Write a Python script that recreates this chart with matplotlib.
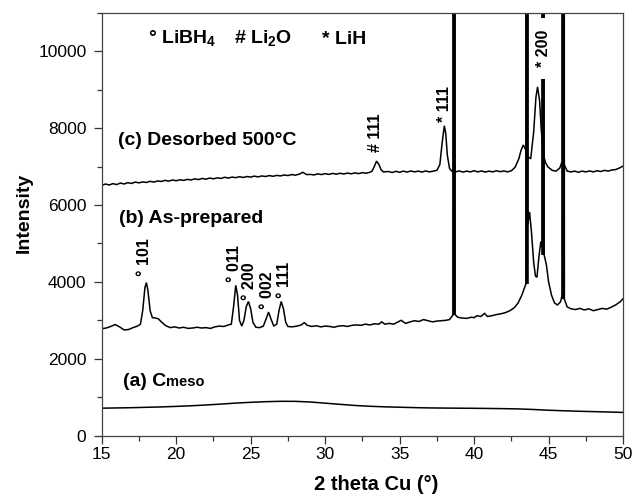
import matplotlib
matplotlib.use("Agg")
import matplotlib.pyplot as plt
from matplotlib.ticker import MultipleLocator

plt.rcParams['font.family'] = ['Liberation Sans', 'DejaVu Sans']
plt.rcParams['mathtext.fontset'] = 'custom'
plt.rcParams['mathtext.rm'] = 'Liberation Sans'
plt.rcParams['mathtext.bf'] = 'Liberation Sans:bold'

# ---------------- data ----------------
# (a) Cmeso
two_theta_a = [15, 17, 19, 20, 21, 22, 23, 24, 25, 26, 27, 28, 29, 30, 31, 32, 33, 34,
               35, 36, 37, 38, 39, 40, 41, 42, 43, 44, 45, 46, 47, 48, 49, 50]
intensity_a = [715, 728, 748, 762, 778, 798, 822, 848, 868, 884, 894, 893, 876, 846, 815,
               786, 765, 750, 740, 730, 722, 718, 715, 712, 708, 703, 696, 681, 662, 648,
               636, 626, 616, 605]

# (b) As-prepared (the four off-scale sample-holder reflections peak at 90000)
two_theta_b = [15.0, 15.3, 15.6, 15.9, 16.2, 16.5, 16.8, 17.1, 17.4, 17.6, 17.75, 17.9, 18.0,
               18.1, 18.25, 18.4, 18.6, 18.8, 19.0, 19.3, 19.6, 19.9, 20.2, 20.5, 20.8, 21.1,
               21.4, 21.7, 22.0, 22.3, 22.6, 22.9, 23.2, 23.5, 23.7, 23.85, 24.0, 24.12, 24.25,
               24.4, 24.55, 24.7, 24.85, 25.0, 25.15, 25.35, 25.6, 25.85, 26.05, 26.2, 26.35,
               26.55, 26.75, 26.9, 27.05, 27.2, 27.35, 27.5, 27.8, 28.1, 28.4, 28.6, 28.8, 29.1,
               29.4, 29.7, 30.0, 30.3, 30.6, 30.9, 31.2, 31.5, 31.8, 32.1, 32.4, 32.7, 33.0,
               33.3, 33.6, 33.8, 34.0, 34.3, 34.6, 34.9, 35.1, 35.4, 35.7, 36.0, 36.3, 36.6,
               36.9, 37.2, 37.5, 37.8, 38.1, 38.35, 38.6, 38.66, 38.72, 38.9, 39.2, 39.5, 39.8,
               40.0, 40.2, 40.45, 40.7, 40.9, 41.2, 41.5, 41.8, 42.1, 42.4, 42.7, 42.95, 43.2,
               43.48, 43.54, 43.6, 43.72, 43.85, 44.0, 44.12, 44.22, 44.35, 44.48, 44.58,
               44.64, 44.7, 44.85, 45.0, 45.2, 45.4, 45.6, 45.8, 45.94, 46.0, 46.06, 46.25,
               46.5, 46.8, 47.1, 47.4, 47.7, 48.0, 48.3, 48.6, 48.9, 49.2, 49.5, 49.8, 50.0]
intensity_b = [2780, 2800, 2840, 2890, 2830, 2750, 2760, 2810, 2850, 2900, 3250, 3850, 3980,
               3780, 3250, 3070, 3060, 3040, 2960, 2860, 2810, 2830, 2800, 2820, 2790, 2800,
               2820, 2800, 2810, 2790, 2830, 2850, 2840, 2880, 2900, 3350, 3910, 3650, 3000,
               2850, 3000, 3350, 3490, 3300, 2950, 2820, 2810, 2850, 3050, 3215, 3050,
               2850, 2900, 3250, 3490, 3300, 2950, 2840, 2830, 2850, 2880, 2940, 2870, 2840,
               2860, 2830, 2850, 2840, 2820, 2850, 2860, 2840, 2870, 2880, 2870, 2900, 2880,
               2910, 2900, 2960, 2900, 2920, 2900, 2960, 3000, 2920, 2960, 2990, 2970, 3020,
               2990, 2960, 2980, 2990, 3000, 3020, 3150, 90000, 3150, 3080, 3060, 3050, 3080,
               3070, 3120, 3100, 3180, 3100, 3120, 3150, 3170, 3200, 3250, 3330, 3450, 3650,
               3950, 90000, 5500, 5820, 5300, 4500, 4150, 4120, 4650, 5050, 4900,
               90000, 4700, 4450, 4000, 3650, 3450, 3400, 3480, 3700, 90000, 3550, 3350,
               3300, 3280, 3310, 3270, 3300, 3250, 3280, 3310, 3290, 3340, 3400, 3480, 3560]

# (c) Desorbed 500 C
two_theta_c = [15.0, 15.25, 15.5, 15.75, 16.0, 16.25, 16.5, 16.75, 17.0, 17.25, 17.5, 17.75,
               18.0, 18.25, 18.5, 18.75, 19.0, 19.25, 19.5, 19.75, 20.0, 20.25, 20.5, 20.75,
               21.0, 21.25, 21.5, 21.75, 22.0, 22.25, 22.5, 22.75, 23.0, 23.25, 23.5, 23.75,
               24.0, 24.25, 24.5, 24.75, 25.0, 25.25, 25.5, 25.75, 26.0, 26.25, 26.5, 26.75,
               27.0, 27.25, 27.5, 27.75, 28.0, 28.25, 28.5, 28.75, 29.0, 29.25, 29.5, 29.75,
               30.0, 30.25, 30.5, 30.75, 31.0, 31.25, 31.5, 31.75, 32.0, 32.25, 32.5, 32.75,
               33.0, 33.15, 33.3, 33.45, 33.6, 33.75, 33.9, 34.25, 34.5, 34.75, 35.0, 35.25,
               35.5, 35.75, 36.0, 36.25, 36.5, 36.75, 37.0, 37.25, 37.5, 37.7, 37.85, 38.0,
               38.1, 38.2, 38.35, 38.5, 38.75, 39.0, 39.25, 39.5, 39.75, 40.0, 40.25, 40.5,
               40.75, 41.0, 41.25, 41.5, 41.75, 42.0, 42.25, 42.5, 42.75, 43.0, 43.15, 43.3,
               43.45, 43.6, 43.8, 44.0, 44.15, 44.26, 44.4, 44.5, 44.65, 44.8, 44.95, 45.25,
               45.5, 45.75, 45.9, 46.05, 46.25, 46.5, 46.75, 47.0, 47.25, 47.5, 47.75, 48.0,
               48.25, 48.5, 48.75, 49.0, 49.25, 49.5, 49.75, 50.0]
intensity_c = [6510, 6545, 6520, 6555, 6530, 6570, 6545, 6580, 6560, 6595, 6575, 6600,
               6585, 6615, 6595, 6625, 6610, 6640, 6620, 6650, 6630, 6655, 6640, 6665,
               6650, 6680, 6660, 6690, 6670, 6700, 6680, 6705, 6690, 6720, 6700, 6725,
               6710, 6735, 6715, 6740, 6725, 6750, 6730, 6755, 6740, 6765, 6745, 6770,
               6755, 6780, 6765, 6790, 6775, 6800, 6850, 6790, 6795, 6780, 6810, 6790,
               6815, 6795, 6820, 6800, 6825, 6805, 6830, 6810, 6835, 6815, 6840, 6825,
               6850, 6880, 7000, 7140, 7060, 6920, 6860, 6870, 6845, 6875, 6850, 6880,
               6855, 6885, 6860, 6880, 6855, 6885, 6860, 6880, 6900, 7050, 7600, 8060,
               7850, 7300, 6950, 6880, 6860, 6885, 6855, 6880, 6860, 6890, 6860, 6885,
               6855, 6880, 6860, 6890, 6865, 6885, 6860, 6890, 6980, 7200, 7420, 7560,
               7450, 7260, 7200, 7900, 8800, 9070, 8700, 8000, 7300, 7100, 6990, 6900,
               6880, 6960, 7120, 7050, 6880, 6860, 6880, 6850, 6880, 6860, 6885, 6860,
               6890, 6870, 6900, 6880, 6910, 6920, 6960, 7010]

# peak annotations
peak_labels = ['° 101', '° 011', '° 200', '° 002', '° 111', '# 111', '* 111', '  * 200  ']
peak_label_x = [17.9, 23.9, 24.95, 26.1, 27.25, 33.4, 38.0, 44.64]
peak_label_y = [4150, 3990, 3520, 3290, 3570, 7380, 8160, 9350]

# curve labels
curve_labels = ['(c) Desorbed 500°C', '(b) As-prepared', '(a) C']
curve_label_x = [16.07, 16.14, 16.4]
curve_label_y = [7560, 5535, 1280]

phase_labels = ['° LiBH$_\\mathbf{4}$', '# Li$_\\mathbf{2}$O', '* LiH']
phase_label_x = [18.1, 23.9, 29.8]
phase_label_y = [10190, 10190, 10190]

x_ticks = [15, 20, 25, 30, 35, 40, 45, 50]
y_ticks = [0, 2000, 4000, 6000, 8000, 10000]
y_max = 11000

# ---------------- figure ----------------
fig = plt.figure(figsize=(6.33, 4.96), dpi=100)
ax = fig.add_axes([0.1607, 0.1216, 0.8236, 0.8528])

for xs, ys in ((two_theta_a, intensity_a), (two_theta_b, intensity_b),
               (two_theta_c, intensity_c)):
    ax.plot(xs, ys, color='black', lw=1.1, solid_joinstyle='miter')

# thicken the off-scale sharp reflections of curve (b), located from the data
spike_x, spike_lo, spike_hi = [], [], []
for i, (xv, yv) in enumerate(zip(two_theta_b, intensity_b)):
    if yv > y_max:
        spike_x.append(xv)
        spike_lo.append(min(intensity_b[i - 1], intensity_b[i + 1]))
        spike_hi.append(yv)
ax.vlines(spike_x, spike_lo, spike_hi, color='black', lw=2.6)

ax.set_xlim(15, 50)
ax.set_ylim(0, y_max)
ax.set_xticks(x_ticks)
ax.set_yticks(y_ticks)
ax.xaxis.set_minor_locator(MultipleLocator(2.5))
ax.yaxis.set_minor_locator(MultipleLocator(1000))
ax.tick_params(which='both', direction='out', color='#333333', width=0.9,
               labelsize=12.5, top=False, right=False)
ax.tick_params(axis='x', which='major', length=5.5, pad=3)
ax.tick_params(axis='x', which='minor', length=3.5)
ax.tick_params(axis='y', which='major', length=5.5, pad=5.5)
ax.tick_params(axis='y', which='minor', length=3.5)
for sp in ax.spines.values():
    sp.set_color('#444444')
    sp.set_linewidth(0.9)

ax.set_xlabel('2 theta Cu (°)', fontsize=14.5, fontweight='bold')
ax.xaxis.label.set_va('baseline')
ax.xaxis.set_label_coords(0.527, -0.129)
ax.set_ylabel('Intensity', fontsize=14, fontweight='bold')
ax.yaxis.label.set_va('center')
ax.yaxis.set_label_coords(-0.148, 0.527)

for txt, x, y in zip(peak_labels, peak_label_x, peak_label_y):
    kw = {}
    if txt.strip() == '* 200':
        kw['bbox'] = dict(facecolor='white', edgecolor='none', pad=2)
    ax.text(x, y, txt, rotation=90, ha='center', va='bottom', fontsize=11.5,
            fontweight='bold', zorder=5, **kw)

texts = []
for txt, x, y in zip(curve_labels, curve_label_x, curve_label_y):
    texts.append(ax.text(x, y, txt, fontsize=14, fontweight='bold', va='baseline'))
ax.annotate('meso', xy=(1, 0), xycoords=texts[2], xytext=(0.3, 0.9),
            textcoords='offset points', fontsize=10.5, fontweight='bold', va='bottom')

for txt, x, y in zip(phase_labels, phase_label_x, phase_label_y):
    ax.text(x, y, txt, fontsize=14, fontweight='bold', va='baseline')

fig.savefig('out.png', dpi=100)
